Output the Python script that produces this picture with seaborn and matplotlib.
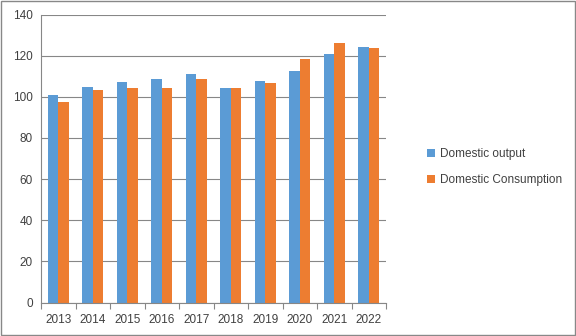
import matplotlib
matplotlib.use("Agg")
import matplotlib.pyplot as plt
import seaborn as sns
import pandas as pd
from matplotlib.patches import Rectangle, Patch
from matplotlib.ticker import FixedLocator

years = ["2013", "2014", "2015", "2016", "2017", "2018", "2019", "2020", "2021", "2022"]
domestic_output = [101.0, 104.8, 107.2, 108.7, 111.1, 104.3, 107.7, 112.5, 120.8, 124.2]
domestic_consumption = [97.6, 103.3, 104.3, 104.3, 108.7, 104.3, 106.7, 118.4, 126.2, 123.7]
series_names = ["Domestic output", "Domestic Consumption"]
colors = ["#5B9BD5", "#ED7D31"]

df = pd.DataFrame({
    "year": years * 2,
    "value": domestic_output + domestic_consumption,
    "series": [series_names[0]] * len(years) + [series_names[1]] * len(years),
})

sns.set_theme(style="white")
plt.rcParams["font.family"] = ["Liberation Sans", "DejaVu Sans"]

fig = plt.figure(figsize=(5.76, 3.36), dpi=100)
ax = fig.add_axes([41 / 576, 1 - 302.5 / 336, 345 / 576, 288 / 336])

sns.barplot(data=df, x="year", y="value", hue="series", palette=colors,
            width=0.6, gap=0, saturation=1, ax=ax, legend=False,
            linewidth=0, edgecolor="none")

ax.set_ylim(0, 140)
ax.set_yticks(range(0, 141, 20))
ax.set_xlim(-0.5, len(years) - 0.5)
ax.set_xlabel("")
ax.set_ylabel("")

grid_col = "#878787"
ax.yaxis.grid(True, color=grid_col, linewidth=0.8)
ax.set_axisbelow(True)
for side in ["top", "right"]:
    ax.spines[side].set_visible(False)
ax.spines["left"].set_color(grid_col)
ax.spines["bottom"].set_color(grid_col)
ax.spines["left"].set_linewidth(0.8)
ax.spines["bottom"].set_linewidth(0.8)

# tick marks sit between the year categories
ax.xaxis.set_minor_locator(FixedLocator([i - 0.5 for i in range(len(years) + 1)]))
ax.tick_params(axis="x", which="major", length=0, labelsize=8.5, colors="#404040", pad=8)
ax.tick_params(axis="x", which="minor", length=4, width=0.8, color=grid_col, bottom=True)
ax.tick_params(axis="y", which="major", length=0, labelsize=8.5, colors="#404040", pad=6)

handles = [Patch(facecolor=c, edgecolor="none") for c in colors]
fig.legend(handles, series_names, loc="center left", bbox_to_anchor=(416 / 576, 1 - 167 / 336),
           frameon=False, fontsize=8.5, handlelength=0.7, handleheight=0.7,
           handletextpad=0.4, labelspacing=1.2, labelcolor="#404040")

fig.patches.append(Rectangle((0.001, 0.002), 0.997, 0.995, transform=fig.transFigure,
                             fill=False, edgecolor="#888888", linewidth=1))

fig.savefig("out.png", dpi=100)
